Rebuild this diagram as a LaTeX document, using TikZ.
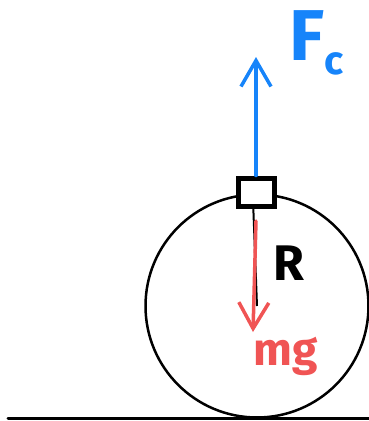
\documentclass[tikz,border=0pt]{standalone}
\usepackage{fontspec}
\setmainfont{Fira Sans}
\usetikzlibrary{arrows.meta}
\definecolor{fblue}{RGB}{22,132,250}
\definecolor{fred}{RGB}{240,84,84}
\tikzset{
  stroke/.style={line width=3pt, line cap=round, line join=round},
  force/.style={stroke, line width=3.5pt, -{Straight Barb[length=26pt,width=30pt,line width=3.5pt]}},
  lbl/.style={inner sep=0pt, anchor=base west, font=\bfseries}
}
\begin{document}
\begin{tikzpicture}[x=1pt,y=-1pt]
\useasboundingbox (0,0) rectangle (369,421);
% ground
\coordinate (g1) at (8,418);
\coordinate (g2) at (369,418);
\draw[stroke] (g1) -- (g2);
% wheel
\node[circle, draw, line width=2.5pt, minimum size=223pt, inner sep=0pt] (wheel) at (257,306) {};
% radius
\draw[line width=2pt] (253,200) -- (wheel.center);
% block on top
\node[draw, line width=5pt, minimum width=36pt, minimum height=28pt, inner sep=0pt, fill=white] (block) at (256,192) {};
% centripetal force arrow
\coordinate (ftip) at (256,57);
\draw[force, fblue] (block.north) -- (ftip);
% weight arrow
\coordinate (wstart) at (256,221);
\coordinate (wtip) at (253,332);
\draw[force, fred] (wstart) -- (wtip);
% labels
\node[lbl, fblue] (fc) at (289,60) {\fontsize{72}{72}\selectfont F\raisebox{-0.2em}{\fontsize{40}{40}\selectfont c}};
\node[lbl] (r) at (273,280) {\fontsize{50}{50}\selectfont R};
\node[lbl, fred] (mg) at (253,365) {\fontsize{46}{46}\selectfont mg};
\end{tikzpicture}
\end{document}
